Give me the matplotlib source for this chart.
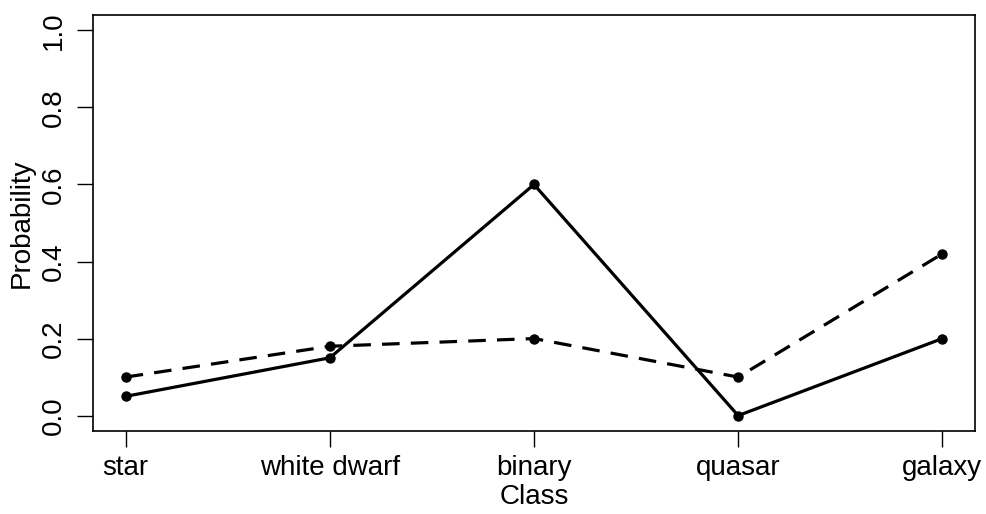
import matplotlib
matplotlib.use("Agg")
import matplotlib.pyplot as plt

# Class probabilities for two classifiers
classes = ["star", "white dwarf", "binary", "quasar", "galaxy"]
prob_solid = [0.05, 0.15, 0.60, 0.00, 0.20]
prob_dashed = [0.10, 0.18, 0.20, 0.10, 0.42]
y_ticks = [0.0, 0.2, 0.4, 0.6, 0.8, 1.0]

plt.rcParams["font.family"] = ["Liberation Sans", "DejaVu Sans"]

fig = plt.figure(figsize=(9.86, 5.14), dpi=100)
ax = fig.add_axes([93 / 986, 1 - 431 / 514, 882 / 986, 416 / 514])

x = list(range(1, len(classes) + 1))
ax.plot(x, prob_solid, color="black", lw=2.3, marker="o", ms=6.5,
        solid_joinstyle="round")
ax.plot(x, prob_dashed, color="black", lw=2.3, ls=(0, (5.5, 3.5)),
        marker="o", ms=6.5)

ax.set_xlim(0.84, 5.16)
ax.set_ylim(-0.04, 1.04)
ax.set_xticks(x)
ax.set_xticklabels(classes, fontsize=20)
ax.set_yticks(y_ticks)
ax.set_yticklabels([f"{v:.1f}" for v in y_ticks], fontsize=20,
                   rotation=90, va="center")
ax.tick_params(axis="both", length=11.5, width=1.0, color="black")
ax.tick_params(axis="x", pad=6)
ax.tick_params(axis="y", pad=7)
for s in ax.spines.values():
    s.set_linewidth(1.2)

ax.set_xlabel("Class", fontsize=20, labelpad=2)
ax.set_ylabel("Probability", fontsize=20, labelpad=5)

fig.savefig("out.png", dpi=100)
